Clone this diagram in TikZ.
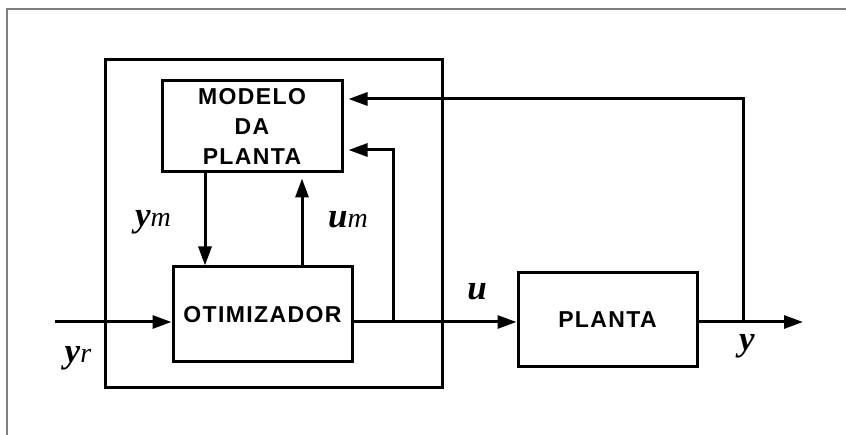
\documentclass[tikz,border=0pt]{standalone}
\usepackage{fontspec}
\setmainfont{Liberation Serif}
\newfontfamily\boxfont[LetterSpace=6]{Liberation Sans}
\usetikzlibrary{arrows.meta}
\newcommand\mysig[2]{\textbf{\textit{#1}}{\fontsize{28}{28}\selectfont\textit{#2}}}
\begin{document}
\begin{tikzpicture}[x=1pt,y=-1pt,
  blk/.style={draw, line width=3pt, inner sep=0pt, font=\boxfont\bfseries\fontsize{23}{30}\selectfont, align=center},
  wire/.style={line width=3pt},
  arr/.style={wire, -{Triangle[length=19pt,width=13pt]}},
  lbl/.style={inner sep=0pt, font=\fontsize{35}{35}\selectfont},
  frame/.style={draw=gray, line width=1.5pt}
]
\useasboundingbox (0,0) rectangle (846,435);
\draw[frame] (7,435) -- (7,9) -- (846,9);
\node[draw, line width=3pt, minimum width=337pt, minimum height=328pt, inner sep=0pt] (ctl) at (273.5,224) {};
\node[blk, minimum width=180pt, minimum height=91pt] (mod) at (252,126.5) {MODELO\\DA\\PLANTA};
\node[blk, minimum width=179pt, minimum height=95pt] (oti) at (262.5,314.5) {OTIMIZADOR};
\node[blk, minimum width=179pt, minimum height=94pt] (pla) at (607.5,320) {PLANTA};
\coordinate (yin) at (55,322);
\coordinate (br1) at (393,322);
\coordinate (br2) at (743,322);
\coordinate (yout) at (803,322);
\coordinate (t1) at (393,150);
\coordinate (t2) at (743,99);
\coordinate (xm) at (205,0);
\coordinate (xu) at (302,0);
\draw[arr] (yin) -- (yin -| oti.west);
\draw[wire] (br1 -| oti.east) -- (br1);
\draw[arr] (br1) -- (br1 -| pla.west);
\draw[wire] (br2 -| pla.east) -- (br2);
\draw[arr] (br2) -- (yout);
\draw[arr, shorten >=5pt] (br1) -- (t1) -- (t1 -| mod.east);
\draw[arr, shorten >=5pt] (br2) -- (t2) -- (t2 -| mod.east);
\draw[arr] (mod.south -| xm) -- (oti.north -| xm);
\draw[arr, shorten >=5pt] (oti.north -| xu) -- (mod.south -| xu);
\node[lbl] (lym) at (153,222) {\mysig{y}{m}};
\node[lbl] (lum) at (348,220) {\mysig{u}{m}};
\node[lbl] (lu) at (477,292) {\textbf{\textit{u}}};
\node[lbl] (ly) at (747,346) {\textbf{\textit{y}}};
\node[lbl] (lyr) at (78,358) {\mysig{y}{r}};
\end{tikzpicture}
\end{document}
